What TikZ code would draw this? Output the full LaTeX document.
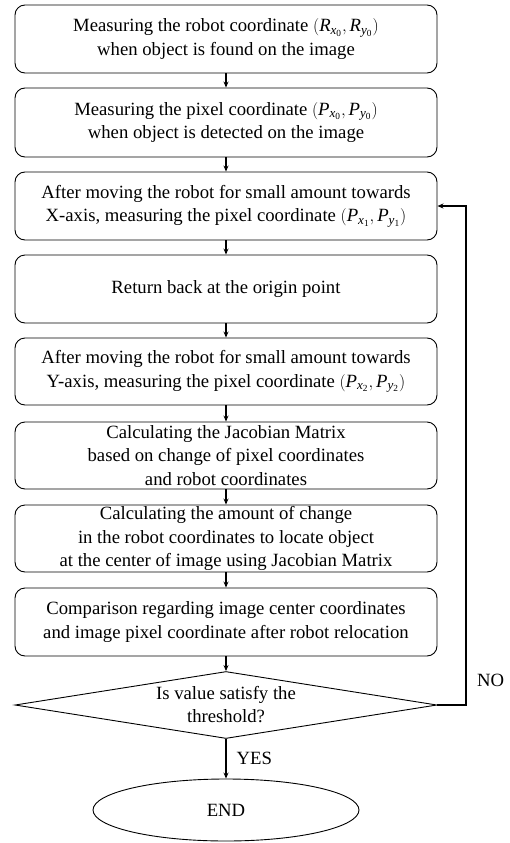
\documentclass[tikz,border=0pt]{standalone}
\usepackage{fontspec}
\setmainfont{Liberation Serif}
\usetikzlibrary{shapes.geometric,arrows.meta}
\newcommand{\pcoord}[2]{$\mathrm{(}\mathit{#1}_{\mathit{x}_{\mathrm{#2}}}\mathrm{,}\,\mathit{#1}_{\mathit{y}_{\mathrm{#2}}}\mathrm{)}$}
\tikzset{
  stepbox/.style={draw, rounded corners=10pt, line width=0.9pt, minimum width=422pt, align=center, inner sep=1pt, font=\fontsize{18.7}{23.5}\selectfont},
  flow/.style={line width=1.3pt, -{Stealth[length=6pt,width=5pt]}},
  lbl/.style={font=\fontsize{18.7}{20}\selectfont, inner sep=0pt}
}
\begin{document}
\begin{tikzpicture}[x=1pt,y=-1pt]
\useasboundingbox (0,0) rectangle (509,843);
\node[stepbox, minimum height=68pt] (b1) at (226,39) {Measuring the robot coordinate \pcoord{R}{0}\\ when object is found on the image};
\node[stepbox, minimum height=69pt] (b2) at (226,122.5) {Measuring the pixel coordinate \pcoord{P}{0}\\ when object is detected on the image};
\node[stepbox, minimum height=68pt] (b3) at (226,206) {After moving the robot for small amount towards\\ X-axis, measuring the pixel coordinate \pcoord{P}{1}};
\node[stepbox, minimum height=68pt] (b4) at (226,289) {Return back at the origin point};
\node[stepbox, minimum height=67pt] (b5) at (226,371.5) {After moving the robot for small amount towards\\ Y-axis, measuring the pixel coordinate \pcoord{P}{2}};
\node[stepbox, minimum height=67pt] (b6) at (226,455.5) {Calculating the Jacobian Matrix\\ based on change of pixel coordinates\\ and robot coordinates};
\node[stepbox, minimum height=67pt] (b7) at (226,538.5) {Calculating the amount of change\\ in the robot coordinates to locate object\\ at the center of image using Jacobian Matrix};
\node[stepbox, minimum height=68pt] (b8) at (226,622) {Comparison regarding image center coordinates\\ and image pixel coordinate after robot relocation};
\node[draw, diamond, aspect=6.3, line width=0.9pt, minimum width=422pt, minimum height=67pt, inner sep=0pt, align=center, font=\fontsize{18.7}{23}\selectfont] (d) at (226,705) {Is value satisfy the\\ threshold?};
\node[draw, ellipse, line width=0.9pt, minimum width=266pt, minimum height=62pt, font=\fontsize{18.7}{20}\selectfont] (e) at (226,810) {END};
\draw[flow] (b1) -- (b2);
\draw[flow] (b2) -- (b3);
\draw[flow] (b3) -- (b4);
\draw[flow] (b4) -- (b5);
\draw[flow] (b5) -- (b6);
\draw[flow] (b6) -- (b7);
\draw[flow] (b7) -- (b8);
\draw[flow] (b8) -- (d);
\draw[flow] (d) -- node[lbl, right=10pt] {YES} (e);
\coordinate (loop) at (466,705);
\draw[flow] (d.east) -- (loop) |- (b3.east);
\node[lbl, anchor=west] (no) at (477,680) {NO};
\end{tikzpicture}
\end{document}
